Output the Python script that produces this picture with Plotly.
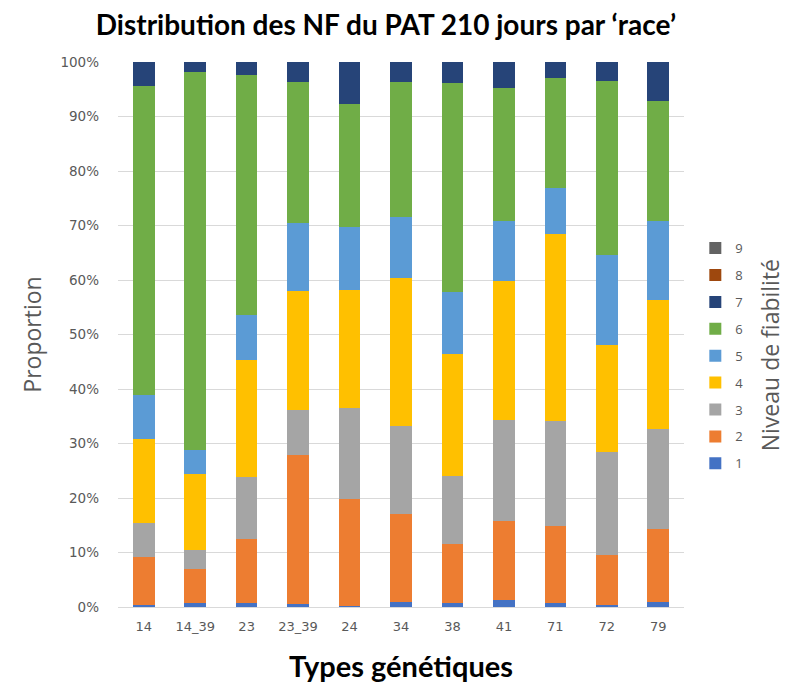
import plotly.graph_objects as go

categories = ["14", "14_39", "23", "23_39", "24", "34", "38", "41", "71", "72", "79"]

nf1 = [0.4, 0.7, 0.7, 0.55, 0.1, 0.9, 0.7, 1.2, 0.7, 0.4, 0.9]
nf2 = [8.8, 6.2, 11.8, 27.35, 19.7, 16.2, 10.8, 14.5, 14.1, 9.1, 13.5]
nf3 = [6.3, 3.6, 11.35, 8.2, 16.8, 16.2, 12.5, 18.7, 19.3, 18.9, 18.3]
nf4 = [15.3, 13.9, 21.55, 21.9, 21.6, 27.1, 22.5, 25.5, 34.4, 19.6, 23.6]
nf5 = [8.1, 4.4, 8.1, 12.5, 11.5, 11.2, 11.3, 10.9, 8.4, 16.6, 14.5]
nf6 = [56.7, 69.4, 44.1, 25.8, 22.6, 24.7, 38.3, 24.4, 20.2, 31.9, 22.0]
nf7 = [4.4, 1.8, 2.4, 3.7, 7.7, 3.7, 3.9, 4.8, 2.9, 3.5, 7.2]
nf8 = [0, 0, 0, 0, 0, 0, 0, 0, 0, 0, 0]
nf9 = [0, 0, 0, 0, 0, 0, 0, 0, 0, 0, 0]

series_names = ["1", "2", "3", "4", "5", "6", "7", "8", "9"]
series_values = [nf1, nf2, nf3, nf4, nf5, nf6, nf7, nf8, nf9]
colors = ["#4472C4", "#ED7D31", "#A5A5A5", "#FFC000", "#5B9BD5",
          "#70AD47", "#264478", "#9E480E", "#636363"]

fig = go.Figure()
n = len(series_names)
for i, (name, vals, col) in enumerate(zip(series_names, series_values, colors)):
    fig.add_trace(go.Bar(
        x=categories, y=vals, name=name, legendgroup=name,
        legendrank=n - i,
        marker=dict(color=col, line=dict(width=0)),
    ))

grey = "#595959"
tickfont = "DejaVu Sans, sans-serif"
fig.update_layout(
    barmode="stack",
    barnorm="fraction",
    bargap=0.58,
    width=789, height=676,
    paper_bgcolor="white", plot_bgcolor="white",
    margin=dict(l=110, r=113, t=54, b=77, autoexpand=False),
    font=dict(family="Lato, Open Sans, sans-serif", color=grey),
    title=dict(
        text="<b>Distribution des NF du PAT 210 jours par ‘race’</b>",
        x=0.479, xanchor="center", y=0.975, yanchor="middle",
        font=dict(size=28, color="black", family="Lato, sans-serif"),
    ),
    xaxis=dict(
        title=dict(text="<b>Types génétiques</b>",
                   font=dict(size=29, color="black", family="Lato, sans-serif"),
                   standoff=24),
        automargin=False,
        tickfont=dict(size=13, color=grey, family=tickfont),
        showline=True, linecolor="#d9d9d9", linewidth=1,
        showgrid=False, ticks="", ticklabelstandoff=7,
    ),
    yaxis=dict(
        title=dict(text="Proportion",
                   font=dict(size=23, color=grey, family="Open Sans, sans-serif"),
                   standoff=12),
        automargin=False,
        range=[0, 1], tickformat=".0%", dtick=0.1,
        tickfont=dict(size=13.5, color=grey, family=tickfont),
        showgrid=True, gridcolor="#d9d9d9", gridwidth=1,
        zeroline=False, showline=False, ticks="",
        ticklabelstandoff=18,
    ),
    legend=dict(
        traceorder="grouped",
        tracegroupgap=7,
        x=1.02, xanchor="left", y=0.686, yanchor="top",
        font=dict(size=13, color=grey, family="Open Sans, sans-serif"),
        itemwidth=30, bgcolor="rgba(0,0,0,0)",
    ),
    annotations=[dict(
        text="Niveau de fiabilité", textangle=-90,
        xref="paper", yref="paper", x=1.152, y=0.462,
        xanchor="center", yanchor="middle", showarrow=False,
        font=dict(size=23, color=grey, family="Open Sans, sans-serif"),
    )],
)

fig.write_html("out.html")
